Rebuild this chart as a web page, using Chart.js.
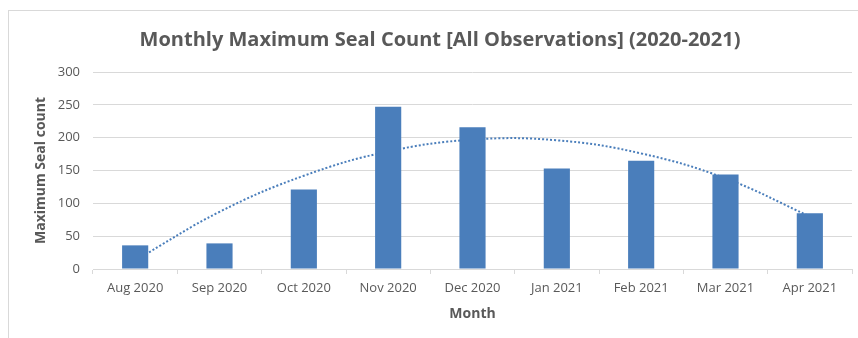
<!DOCTYPE html>
<html>
<head>
<meta charset="utf-8">
<title>Monthly Maximum Seal Count</title>
<script src="https://cdn.jsdelivr.net/npm/chart.js@4/dist/chart.umd.min.js"></script>
<style>
    html, body { margin: 0; padding: 0; background: #fff; overflow: hidden; }
    .grap-container { position: relative; width: 858px; height: 338px; }
    .chart-frame { position: absolute; left: 8px; top: 10px; width: 900px; height: 400px; border: 1px solid #d9d9d9; }
    #chart { position: absolute; left: 0; top: 0; }
</style>
</head>
<body>
<div class="grap-container">
    <div class="chart-frame"></div>
    <canvas id="chart" width="858" height="338"></canvas>
</div>
<script>
var months = ["Aug 2020", "Sep 2020", "Oct 2020", "Nov 2020", "Dec 2020", "Jan 2021", "Feb 2021", "Mar 2021", "Apr 2021"];
var maxSealCount = [36, 39, 121, 247, 216, 153, 165, 144, 85];
// polynomial trendline
var trendValues = [13, 87, 142, 179, 197, 196, 176, 138, 80];
var yTicks = [0, 50, 100, 150, 200, 250, 300];

var textColor = "#595959";
var gridColor = "#d9d9d9";
var barColor = "#4a7ebb";

function loadChart() {
    var ctx = document.getElementById("chart");
    var datasets = [{
        type: "bar",
        label: "Maximum Seal count",
        data: maxSealCount,
        backgroundColor: barColor,
        borderWidth: 0,
        barPercentage: 0.31,
        categoryPercentage: 1,
        order: 0
    }, {
        type: "line",
        label: "Trend",
        data: trendValues,
        borderColor: barColor,
        borderWidth: 2,
        borderDash: [2, 2],
        borderCapStyle: "butt",
        tension: 0.4,
        pointRadius: 0,
        fill: false,
        order: 1
    }];

    var config = {
        type: "bar",
        data: {
            labels: months,
            datasets: datasets
        },
        options: {
            responsive: false,
            animation: false,
            layout: {
                padding: { top: 0, left: 28, right: 6, bottom: 0 }
            },
            plugins: {
                legend: { display: false },
                tooltip: { enabled: false },
                title: {
                    display: true,
                    text: "Monthly Maximum Seal Count [All Observations] (2020-2021)",
                    color: textColor,
                    font: { family: "'Open Sans', sans-serif", size: 20, weight: "bold" },
                    padding: { top: 28, bottom: 20 }
                }
            },
            scales: {
                x: {
                    offset: true,
                    grid: {
                        offset: true,
                        drawOnChartArea: false,
                        color: gridColor,
                        tickLength: 5
                    },
                    border: { color: gridColor },
                    ticks: {
                        color: textColor,
                        padding: 6,
                        maxRotation: 0,
                        font: { family: "'Open Sans', sans-serif", size: 13 }
                    },
                    title: {
                        display: true,
                        text: "Month",
                        color: textColor,
                        font: { family: "'Open Sans', sans-serif", size: 14, weight: "bold" },
                        padding: { top: 0, bottom: 16 }
                    },
                    afterFit: function (scale) {
                        scale.height = 69;
                    }
                },
                y: {
                    min: 0,
                    max: 300,
                    afterBuildTicks: function (scale) {
                        scale.ticks = yTicks.map(function (v) { return { value: v }; });
                    },
                    grid: {
                        color: gridColor,
                        drawTicks: false
                    },
                    border: { display: false },
                    ticks: {
                        color: textColor,
                        padding: 13,
                        font: { family: "'Open Sans', sans-serif", size: 13 }
                    },
                    title: {
                        display: true,
                        text: "Maximum Seal count",
                        color: textColor,
                        font: { family: "'Open Sans', sans-serif", size: 14, weight: "bold" },
                        padding: { top: 5, bottom: 0 }
                    },
                    afterFit: function (scale) {
                        scale.width = 65;
                    }
                }
            }
        }
    };
    var myChart = new Chart(ctx, config);
}

loadChart();
</script>
</body>
</html>
